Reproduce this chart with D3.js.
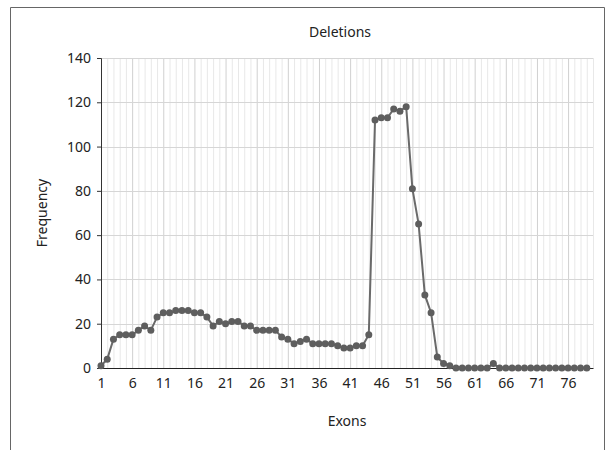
<!DOCTYPE html>
<html>
<head>
<meta charset="utf-8">
<script src="https://cdn.jsdelivr.net/npm/d3@7"></script>
<style>
  body { margin: 0; background: #fff; }
  text { font-family: 'Noto Sans', sans-serif; fill: #222; }
</style>
</head>
<body>
<div id="chart"></div>
<script>
// exon numbers 1..79
const exons = d3.range(1, 80)
// deletion counts
const frequency = [
  1, 4, 13, 15, 15, 15, 17, 19, 17, 23,
  25, 25, 26, 26, 26, 25, 25, 23, 19, 21,
  20, 21, 21, 19, 19, 17, 17, 17, 17, 14,
  13, 11, 12, 13, 11, 11, 11, 11, 10, 9,
  9, 10, 10, 15, 112, 113, 113, 117, 116, 118,
  81, 65, 33, 25, 5, 2, 1, 0, 0, 0,
  0, 0, 0, 2, 0, 0, 0, 0, 0, 0,
  0, 0, 0, 0, 0, 0, 0, 0, 0
]
const xTicks = [1, 6, 11, 16, 21, 26, 31, 36, 41, 46, 51, 56, 61, 66, 71, 76]
const yTicks = [0, 20, 40, 60, 80, 100, 120, 140]

const width = 612
const height = 450
const margin = { top: 58, right: 19, bottom: 82, left: 101 }

const data = exons.map((e, i) => ({ exon: e, value: frequency[i] }))

const svg = d3.select('#chart')
  .append('svg')
  .attr('width', width)
  .attr('height', height)

// outer frame
svg.append('path')
  .attr('d', 'M10.5,460V7.5H604.5V460')
  .attr('fill', 'none')
  .attr('stroke', '#666')
  .attr('stroke-width', 1)

const x = d3.scaleLinear()
  .domain([1, 80])
  .range([margin.left, width - margin.right])

const y = d3.scaleLinear()
  .domain([0, 140])
  .range([height - margin.bottom, margin.top])

// minor vertical grid
svg.append('g')
  .selectAll('line')
  .data(d3.range(2, 81).filter(d => !xTicks.includes(d)))
  .join('line')
  .attr('x1', d => x(d) + 0.5)
  .attr('x2', d => x(d) + 0.5)
  .attr('y1', y(140))
  .attr('y2', y(0))
  .attr('stroke', '#e8e8e8')

// major vertical grid
svg.append('g')
  .selectAll('line')
  .data(xTicks.slice(1))
  .join('line')
  .attr('x1', d => x(d) + 0.5)
  .attr('x2', d => x(d) + 0.5)
  .attr('y1', y(140))
  .attr('y2', y(0))
  .attr('stroke', '#d0d0d0')

// horizontal grid
svg.append('g')
  .selectAll('line')
  .data(yTicks.slice(1))
  .join('line')
  .attr('x1', x(1))
  .attr('x2', x(80))
  .attr('y1', d => Math.round(y(d)) + 0.5)
  .attr('y2', d => Math.round(y(d)) + 0.5)
  .attr('stroke', '#d6d6d6')

// y axis
svg.append('g')
  .attr('transform', `translate(${margin.left},0)`)
  .call(d3.axisLeft(y).tickValues(yTicks).tickSize(4).tickPadding(6))
  .call(g => g.select('.domain').attr('stroke', '#333'))
  .call(g => g.selectAll('.tick line').attr('stroke', '#333'))
  .call(g => g.selectAll('.tick text')
    .style('font-family', "'Noto Sans', sans-serif")
    .style('font-size', '14px')
    .attr('fill', '#222'))

// x axis
svg.append('g')
  .attr('transform', `translate(0,${height - margin.bottom})`)
  .call(d3.axisBottom(x).tickValues(xTicks).tickFormat(d3.format('d')).tickSize(0).tickPadding(10))
  .call(g => g.select('.domain').attr('stroke', '#222').attr('stroke-width', 1.2))
  .call(g => g.selectAll('.tick text')
    .style('font-family', "'Noto Sans', sans-serif")
    .style('font-size', '14px')
    .attr('fill', '#222'))

const line = d3.line()
  .x(d => x(d.exon))
  .y(d => y(d.value))

svg.append('path')
  .datum(data)
  .attr('fill', 'none')
  .attr('stroke', '#6a6a6a')
  .attr('stroke-width', 2)
  .attr('d', line)

svg.append('g')
  .selectAll('circle')
  .data(data)
  .join('circle')
  .attr('cx', d => x(d.exon))
  .attr('cy', d => y(d.value))
  .attr('r', 3.5)
  .attr('fill', '#5e5e5e')

// title and axis labels
svg.append('text')
  .attr('x', 340)
  .attr('y', 37)
  .attr('text-anchor', 'middle')
  .style('font-size', '14px')
  .text('Deletions')

svg.append('text')
  .attr('x', 347)
  .attr('y', 426)
  .attr('text-anchor', 'middle')
  .style('font-size', '14px')
  .text('Exons')

svg.append('text')
  .attr('transform', `translate(47,${(y(0) + y(140)) / 2}) rotate(-90)`)
  .attr('text-anchor', 'middle')
  .style('font-size', '14px')
  .text('Frequency')
</script>
</body>
</html>
